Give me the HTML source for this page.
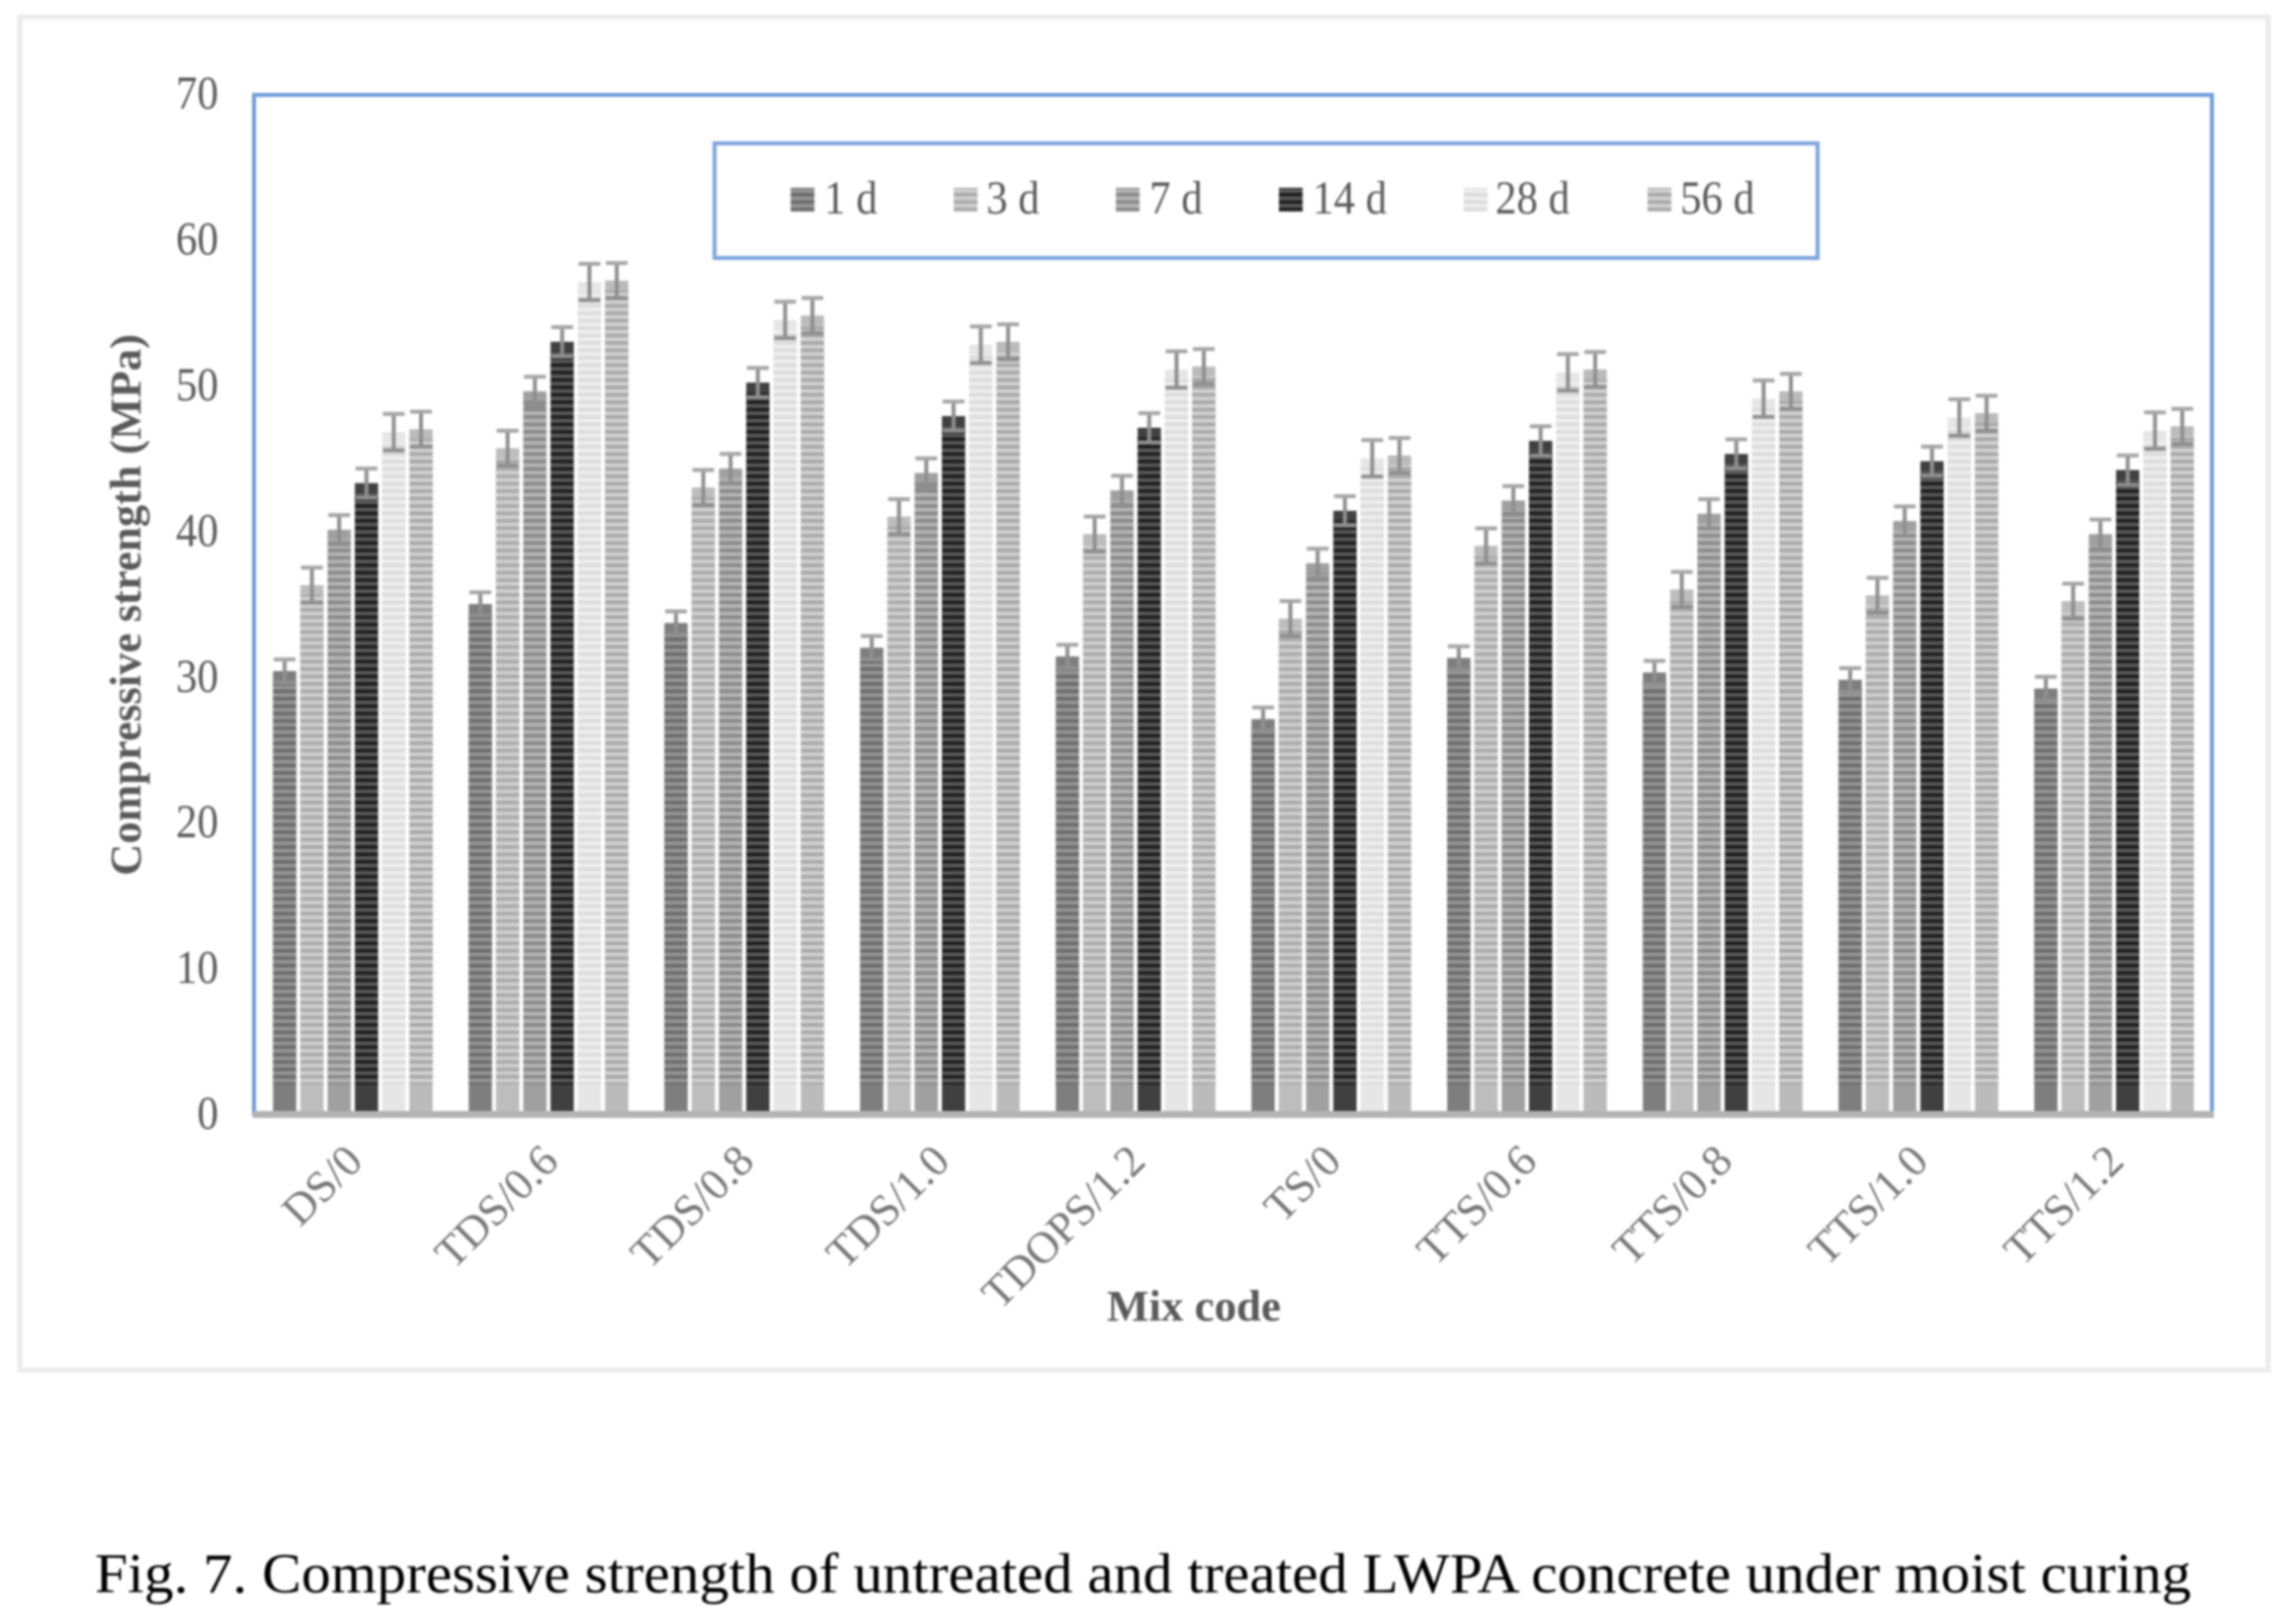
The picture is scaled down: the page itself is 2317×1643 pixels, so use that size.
<!DOCTYPE html>
<html lang="en">
<head>
<meta charset="utf-8">
<title>Compressive strength of LWPA concrete</title>
<style>
html,body{margin:0;padding:0;background:#fff;}
svg{display:block;filter:blur(1px);}
text{font-family:"Liberation Serif",serif;}
</style>
</head>
<body>
<svg id="chart" xmlns="http://www.w3.org/2000/svg" width="2317" height="1643" viewBox="0 0 2317 1643">
  <rect x="0" y="0" width="2317" height="1643" fill="#fff"/>
  <rect x="20" y="17" width="2275" height="1369" fill="#fff" stroke="#ebebeb" stroke-width="5"/>
  <defs id="defs"></defs>
  <g id="bars"></g>
  <g id="errors"></g>
  <rect x="257" y="96" width="1981" height="1031" fill="none" stroke="#6f9bdc" stroke-width="4"/>
  <line x1="256" y1="1127.5" x2="2240" y2="1127.5" stroke="#b3b3b3" stroke-width="7"/>
  <g id="yticks"></g>
  <g id="xticks"></g>
  <text transform="translate(142,612) rotate(-90)" text-anchor="middle" font-size="44" font-weight="bold" fill="#595959" textLength="548" lengthAdjust="spacingAndGlyphs">Compressive strength (MPa)</text>
  <text x="1120" y="1336" font-size="44" font-weight="bold" fill="#595959" textLength="176" lengthAdjust="spacingAndGlyphs">Mix code</text>
  <g>
    <rect x="723" y="145" width="1116" height="116" fill="#fff" stroke="#7ba3de" stroke-width="4"/>
    <g id="legend-items"></g>
  </g>
  <text x="96" y="1611" font-size="57" fill="#000" textLength="2121" lengthAdjust="spacingAndGlyphs">Fig. 7. Compressive strength of untreated and treated LWPA concrete under moist curing</text>
</svg>
<script>
const categories = ['DS/0','TDS/0.6','TDS/0.8','TDS/1.0','TDOPS/1.2','TS/0','TTS/0.6','TTS/0.8','TTS/1.0','TTS/1.2'];
const seriesNames = ['1 d','3 d','7 d','14 d','28 d','56 d'];
const values1d  = [30.4,35.0,33.7,32.0,31.4,27.1,31.3,30.3,29.8,29.2];
const values3d  = [36.3,45.7,43.0,41.0,39.8,34.0,39.0,36.0,35.6,35.2];
const values7d  = [40.1,49.6,44.3,44.0,42.8,37.8,42.1,41.2,40.7,39.8];
const values14d = [43.3,53.0,50.2,47.9,47.1,41.4,46.2,45.3,44.8,44.2];
const values28d = [46.8,57.1,54.5,52.8,51.1,45.0,50.9,49.1,47.8,46.9];
const values56d = [47.0,57.2,54.8,53.0,51.3,45.2,51.1,49.6,48.1,47.2];
const errorValues = [0.8,1.2,1.0,1.0,1.25,1.2];
const yTickLabels = [0,10,20,30,40,50,60,70];

const allSeries = [values1d,values3d,values7d,values14d,values28d,values56d];
const NS = 'http://www.w3.org/2000/svg';
const darkShades = ['#6c6c6c','#aaaaaa','#8a8a8a','#1f1f1f','#dbdbdb','#a8a8a8'];
const lightShades = ['#969696','#d0d0d0','#b6b6b6','#5a5a5a','#efefef','#d2d2d2'];
const midShades = ['#7e7e7e','#bdbdbd','#a0a0a0','#404040','#e6e6e6','#bbbbbb'];
const legendSwatchX = [800,965,1129,1294,1481,1667];
const legendTextX = [834,998,1163,1328,1513,1700];

const plotLeft = 258, plotWidth = 1980, baseY = 1127, unitPx = 14.74;
const groupCount = categories.length, barStep = 27.6, barWidth = 23.5;

function xGroup(i){ return plotLeft + plotWidth / groupCount * (i + 0.5); }
function xBar(i, s){ return xGroup(i) + (s - (allSeries.length - 1) / 2) * barStep; }
function yVal(v){ return baseY - v * unitPx; }
function make(tag, attrs, parent){
  const el = document.createElementNS(NS, tag);
  for (const k in attrs) el.setAttribute(k, attrs[k]);
  parent.appendChild(el);
  return el;
}

const defs = document.getElementById('defs');
darkShades.forEach(function(dark, s){
  const p = make('pattern', {id:'stripe' + s, patternUnits:'userSpaceOnUse', x:0, y:0, width:10, height:7.5}, defs);
  make('rect', {x:0, y:0, width:10, height:7.5, fill:lightShades[s]}, p);
  make('rect', {x:0, y:0, width:10, height:3.8, fill:dark}, p);
});

const barsG = document.getElementById('bars');
const errG = document.getElementById('errors');
allSeries.forEach(function(vals, s){
  vals.forEach(function(v, i){
    const cx = xBar(i, s), top = yVal(v), err = errorValues[s];
    const base = make('rect', {x:cx - barWidth/2, y:top, width:barWidth, height:baseY - top, fill:midShades[s]}, barsG);
    
    
    const stripeTop = top + 10;
    const stripeBottom = baseY - 30;
    const st = make('rect', {x:cx - barWidth/2, y:stripeTop, width:barWidth, height:Math.max(0, stripeBottom - stripeTop), fill:'url(#stripe' + s + ')'}, barsG);
    
    

    const hi = yVal(v + err), lo = yVal(v - err);
    const stem = make('line', {x1:cx, x2:cx, y1:hi, y2:lo, stroke:'#8f8f8f', 'stroke-width':4}, errG);
    
    
    const capTop = make('line', {x1:cx - 11, x2:cx + 11, y1:hi, y2:hi, stroke:'#a6a6a6', 'stroke-width':4}, errG);
    
    
    const capLow = make('line', {x1:cx - 11, x2:cx + 11, y1:lo, y2:lo, stroke:'#8f8f8f', 'stroke-width':4}, errG);
    
    
  });
});

const yG = document.getElementById('yticks');
yTickLabels.forEach(function(t){
  const el = make('text', {transform:'translate(221,' + (yVal(t) + 15) + ') scale(1,1.12)', 'text-anchor':'end', 'font-size':43, fill:'#595959'}, yG);
  el.textContent = t;
  
  
});

const xG = document.getElementById('xticks');
categories.forEach(function(c, i){
  const px = xGroup(i) + 12, py = 1177;
  const el = make('text', {transform:'translate(' + px + ',' + py + ') rotate(-45)', 'text-anchor':'end', 'font-size':45, fill:'#777777'}, xG);
  el.textContent = c;
  
  
});

const legG = document.getElementById('legend-items');
seriesNames.forEach(function(n, s){
  const sw = make('rect', {x:legendSwatchX[s], y:190, width:24, height:24, fill:'url(#stripe' + s + ')'}, legG);
  
  
  const tx = make('text', {transform:'translate(' + legendTextX[s] + ',216) scale(1,1.12)', 'font-size':43, fill:'#595959'}, legG);
  tx.textContent = n;
  
  
});
</script>
</body>
</html>
